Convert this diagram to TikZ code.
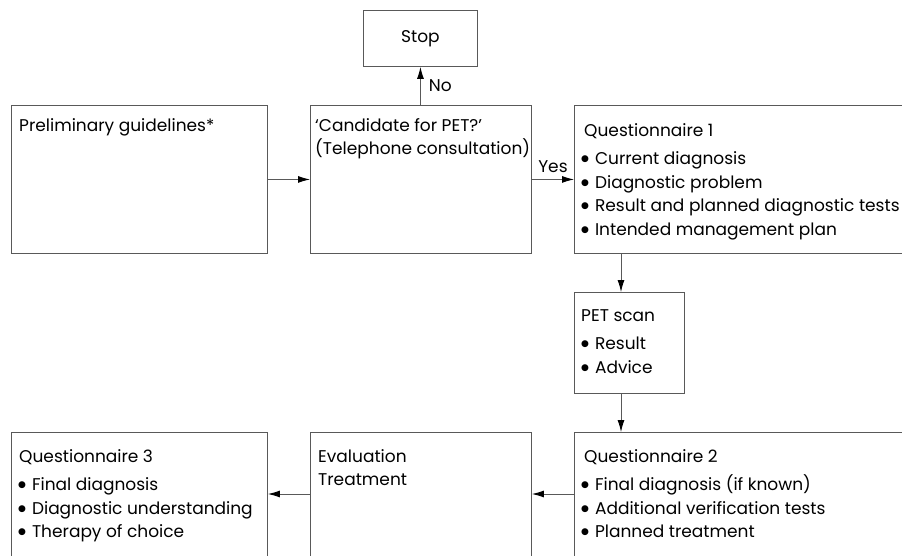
\documentclass[tikz,border=0pt]{standalone}
\usepackage{fontspec}
\setmainfont{Poppins}
\newfontfamily\dejavu{DejaVu Sans}
\usetikzlibrary{arrows.meta,calc}
\definecolor{linegray}{gray}{0.35}
\newcommand\bul{{\dejavu\fontsize{9}{9}\selectfont\raisebox{0.6ex}{●}}\hspace{6pt}}
\begin{document}
\begin{tikzpicture}[x=1pt,y=-1pt,
  box/.style={draw=linegray,line width=0.9pt,inner sep=0pt,anchor=north west},
  txt/.style={anchor=north west,inner sep=0pt,align=left,font=\fontsize{17}{23.5}\selectfont},
  arr/.style={draw=linegray,line width=0.9pt,-{Latex[length=12pt,width=7pt,color=black]}},
  lbl/.style={inner sep=0pt,font=\fontsize{17}{20}\selectfont}]
\useasboundingbox (0,0) rectangle (902,556);
\clip (0,0) rectangle (902,556);
\fill[white] (0,0) rectangle (902,556);
% boxes
\node[box,minimum width=114pt,minimum height=56pt] (stop) at (363,10) {};
\node[box,minimum width=256pt,minimum height=148pt] (prel) at (11,105) {};
\node[box,minimum width=221pt,minimum height=148pt] (cand) at (310,105) {};
\node[box,minimum width=360pt,minimum height=148pt] (q1) at (574,105) {};
\node[box,minimum width=110pt,minimum height=101pt] (pet) at (574,292) {};
\node[box,minimum width=360pt,minimum height=140pt] (q2) at (574,432) {};
\node[box,minimum width=221pt,minimum height=140pt] (eval) at (310,432) {};
\node[box,minimum width=256pt,minimum height=140pt] (q3) at (11,432) {};
% texts
\node[lbl] (stopt) at (stop.center) {Stop};
\node[txt] (prelt) at (19,118) {Preliminary guidelines*};
\node[txt] (candt) at (315,118) {`Candidate for PET?'\\(Telephone consultation)};
\node[txt] (q1t) at (581,123) {\hspace{3pt}Questionnaire 1\\[5pt]\bul Current diagnosis\\\bul Diagnostic problem\\\bul Result and planned diagnostic tests\\\bul Intended management plan};
\node[txt] (pett) at (581,309) {PET scan\\[5pt]\bul Result\\\bul Advice};
\node[txt] (q2t) at (581,449) {\hspace{3pt}Questionnaire 2\\[5pt]\bul Final diagnosis (if known)\\\bul Additional verification tests\\\bul Planned treatment};
\node[txt] (evalt) at (318,449) {Evaluation\\Treatment};
\node[txt] (q3t) at (18,449) {\hspace{1pt}Questionnaire 3\\[5pt]\bul Final diagnosis\\\bul Diagnostic understanding\\\bul Therapy of choice};
% connectors
\coordinate (vx) at (621,0);
\coordinate (hy) at (0,494);
\draw[arr] (prel) -- (cand);
\draw[arr] (cand) -- node[lbl,above,yshift=6pt] (yes) {Yes} (q1);
\draw[arr] (cand.north -| stop) -- node[lbl,right,xshift=8pt] (no) {No} (stop);
\draw[arr] (q1.south -| vx) -- (pet.north -| vx);
\draw[arr] (pet.south -| vx) -- (q2.north -| vx);
\draw[arr] (q2.west |- hy) -- (eval.east |- hy);
\draw[arr] (eval.west |- hy) -- (q3.east |- hy);
\end{tikzpicture}
\end{document}
